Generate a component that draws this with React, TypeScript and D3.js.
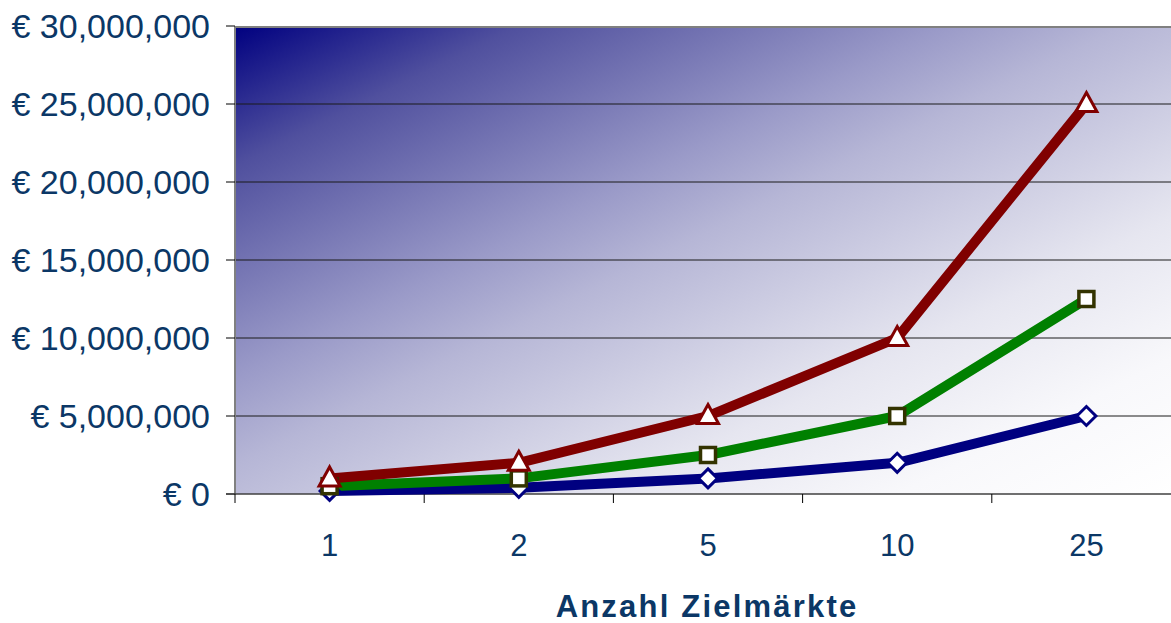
import React from "react";
import * as d3 from "d3";

const categories = ["1", "2", "5", "10", "25"];
const seriesRed = [1000000, 2000000, 5000000, 10000000, 25000000];
const seriesGreen = [500000, 1000000, 2500000, 5000000, 12500000];
const seriesBlue = [200000, 400000, 1000000, 2000000, 5000000];
const yTicks = [0, 5000000, 10000000, 15000000, 20000000, 25000000, 30000000];
const xTitle = "Anzahl Zielmärkte";

const W = 1171;
const H = 623;
const left = 235;
const right = 1181;
const top = 26;
const bottom = 494;
const textColor = "#0b3766";

export default function App() {
  const x = d3.scaleBand<string>().domain(categories).range([left, right]).padding(0);
  const y = d3.scaleLinear().domain([0, 30000000]).range([bottom, top]);
  const cx = (c: string) => (x(c) as number) + x.bandwidth() / 2;
  const line = d3
    .line<number>()
    .x((_, i) => cx(categories[i]))
    .y((v) => y(v));
  const fmt = (v: number) => "€ " + d3.format(",")(v);

  const series = [
    { data: seriesBlue, color: "#000080", markerStroke: "#000080", shape: "diamond" },
    { data: seriesGreen, color: "#008000", markerStroke: "#333300", shape: "square" },
    { data: seriesRed, color: "#800000", markerStroke: "#800000", shape: "triangle" },
  ];

  const marker = (shape: string, px: number, py: number, stroke: string, key: string) => {
    if (shape === "diamond") {
      const s = 9.5;
      return (
        <path key={key} d={`M${px},${py - s}L${px + s},${py}L${px},${py + s}L${px - s},${py}Z`}
          fill="#fff" stroke={stroke} strokeWidth={3} />
      );
    }
    if (shape === "square") {
      const s = 7.5;
      return <rect key={key} x={px - s} y={py - s} width={2 * s} height={2 * s} fill="#fff" stroke={stroke} strokeWidth={3.5} />;
    }
    const s = 9.5;
    return (
      <path key={key} d={`M${px},${py - s - 2}L${px + s + 1},${py + s - 2}L${px - s - 1},${py + s - 2}Z`}
        fill="#fff" stroke={stroke} strokeWidth={3} strokeLinejoin="miter" />
    );
  };

  return (
    <svg width={W} height={H} style={{ position: "absolute", left: 0, top: 0, display: "block" }}
      fontFamily="'Liberation Sans', Arial, sans-serif">
      <defs>
        <linearGradient id="bg" x1="0" y1="0" x2="1" y2="1">
          <stop offset="0" stopColor="#000080" />
          <stop offset="0.15" stopColor="#50509e" />
          <stop offset="0.375" stopColor="#9a9ac8" />
          <stop offset="0.47" stopColor="#b6b6d6" />
          <stop offset="0.7" stopColor="#e6e6f0" />
          <stop offset="0.85" stopColor="#f8f8fb" />
          <stop offset="1" stopColor="#ffffff" />
        </linearGradient>
      </defs>
      <rect width={W} height={H} fill="#fff" />
      <rect x={left} y={top} width={right - left} height={bottom - top} fill="url(#bg)" />
      {yTicks.slice(1, -1).map((t) => (
        <line key={t} x1={left} x2={right} y1={y(t)} y2={y(t)} stroke="#1a1a1a" strokeWidth={1} />
      ))}
      <line x1={left} x2={right} y1={top + 1} y2={top + 1} stroke="#808080" strokeWidth={2} />
      <line x1={left} x2={left} y1={top} y2={bottom} stroke="#808080" strokeWidth={2} />
      {yTicks.map((t) => (
        <g key={t}>
          <line x1={left - 9} x2={left} y1={y(t)} y2={y(t)} stroke="#000" strokeWidth={1} />
          <text x={210} y={y(t)} dy="0.36em" textAnchor="end" fontSize={34} fill={textColor}>
            {fmt(t)}
          </text>
        </g>
      ))}
      <line x1={left - 9} x2={right} y1={bottom} y2={bottom} stroke="#404040" strokeWidth={1.5} />
      {categories.map((c) => (
        <line key={"t" + c} x1={x(c) as number} x2={x(c) as number} y1={bottom} y2={bottom + 9} stroke="#000" strokeWidth={1} />
      ))}
      {categories.map((c) => (
        <text key={"l" + c} x={cx(c)} y={556} textAnchor="middle" fontSize={31} fill={textColor}>
          {c}
        </text>
      ))}
      <text x={707} y={617} textAnchor="middle" fontSize={31} fontWeight="bold" letterSpacing={2.2} fill={textColor}>
        {xTitle}
      </text>
      {series.map((s, si) => (
        <path key={si} d={line(s.data) as string} fill="none" stroke={s.color} strokeWidth={10} strokeLinejoin="round" />
      ))}
      {series.map((s, si) => (
        <g key={"m" + si}>
          {s.data.map((v, i) => marker(s.shape, cx(categories[i]), y(v), s.markerStroke, `${si}-${i}`))}
        </g>
      ))}
    </svg>
  );
}
